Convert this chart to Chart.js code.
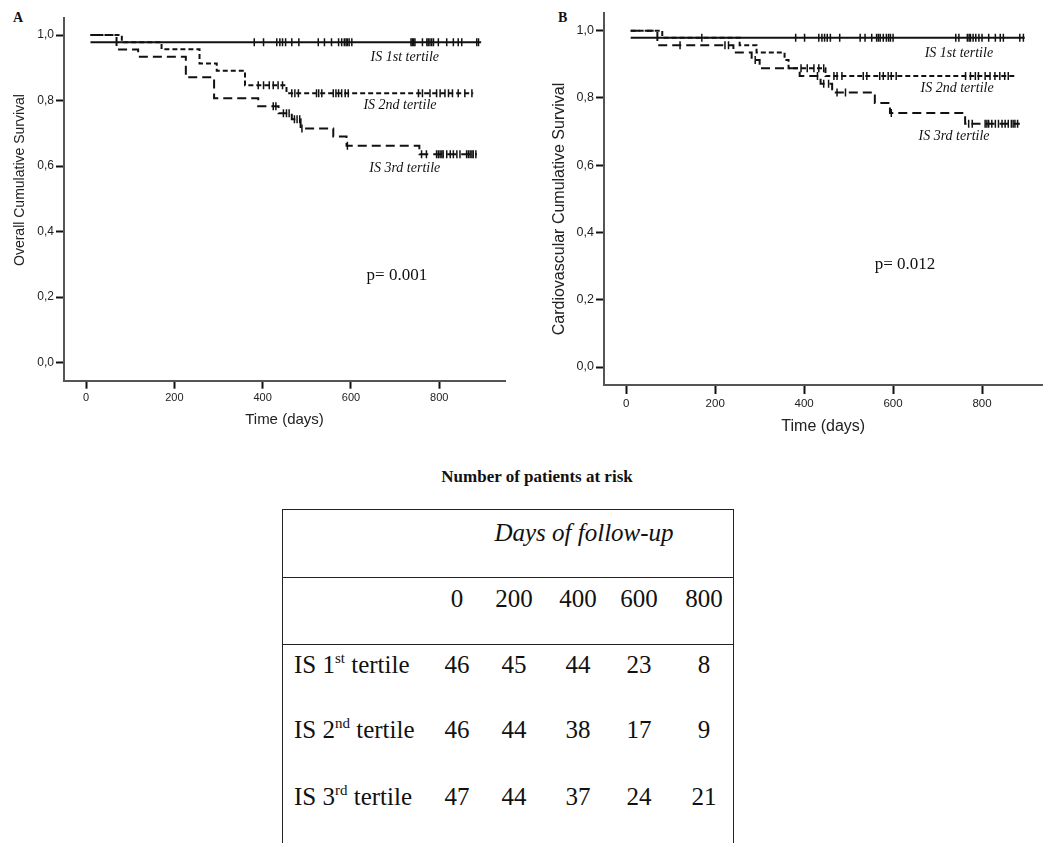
<!DOCTYPE html>
<html lang="en">
<head>
    <meta charset="UTF-8">
    <title>Survival by IS tertile</title>
    <script src="https://cdn.jsdelivr.net/npm/chart.js"></script>
    <style>
        body, html {
            margin: 0;
            padding: 0;
            width: 1048px;
            height: 843px;
            overflow: hidden;
            background: #fff;
        }

        canvas {
            position: absolute;
            top: 0;
        }

        .panelLetter {
            position: absolute;
            font: bold 14px "Liberation Serif", serif;
            color: #111;
        }

        #riskTitle {
            position: absolute;
            left: 537px;
            top: 477px;
            transform: translate(-50%, -50%);
            font: bold 17px "Liberation Serif", serif;
            color: #111;
            white-space: nowrap;
        }

        #riskBox {
            position: absolute;
            left: 282px;
            top: 509px;
            width: 450px;
            height: 400px;
            border: 1.5px solid #222;
            font: 25px "Liberation Serif", serif;
            color: #111;
        }

        #riskBox .rule {
            position: absolute;
            left: 0;
            right: 0;
            height: 0;
            border-top: 1.5px solid #222;
        }

        #riskBox span {
            position: absolute;
            line-height: 1;
            white-space: nowrap;
        }

        #riskBox sup {
            font-size: 15px;
            vertical-align: 10px;
            line-height: 0;
        }
    </style>
</head>
<body>

<div class="panelLetter" style="left:13px; top:10px;">A</div>
<div class="panelLetter" style="left:558px; top:10px;">B</div>

<canvas id="chartA" width="520" height="440" style="left:0;"></canvas>
<canvas id="chartB" width="528" height="440" style="left:520px;"></canvas>

<div id="riskTitle">Number of patients at risk</div>
<div id="riskBox"></div>

<script>
    const xTicks = [0, 200, 400, 600, 800];
    const yTicks = [0, 0.2, 0.4, 0.6, 0.8, 1.0];
    const seriesNames = ['IS 1st tertile', 'IS 2nd tertile', 'IS 3rd tertile'];

    // A - overall survival: step times (days), survival after each step, censored times
    const osTime1 = [10, 895];
    const osSurv1 = [0.978, 0.978];
    const osCens1 = [381, 402, 432, 439, 445, 452, 466, 482, 526, 540, 556, 572, 579, 585, 589, 592,
                     596, 602, 736, 739, 742, 745, 762, 772, 775, 779, 783, 787, 798, 817, 832, 843, 851, 885, 889];

    const osTime2 = [10, 81, 171, 257, 296, 360, 454, 877];
    const osSurv2 = [1.0, 0.978, 0.957, 0.913, 0.891, 0.847, 0.822, 0.822];
    const osCens2 = [390, 402, 415, 424, 435, 445, 466, 473, 481, 522, 527, 534, 560, 566, 572,
                     579, 587, 594, 753, 762, 779, 794, 802, 813, 821, 830, 843, 858, 874];

    const osTime3 = [10, 69, 118, 226, 290, 390, 436, 466, 486, 560, 590, 755, 885];
    const osSurv3 = [1.0, 0.956, 0.934, 0.871, 0.807, 0.783, 0.761, 0.743, 0.715, 0.690, 0.662, 0.636, 0.636];
    const osCens3 = [424, 430, 447, 454, 460, 472, 478, 484, 489, 592, 760, 771, 794, 798, 802, 806,
                     809, 817, 825, 832, 840, 847, 862, 866, 870, 874, 877, 883];

    // B - cardiovascular survival
    const cvTime1 = [10, 896];
    const cvSurv1 = [0.979, 0.979];
    const cvCens1 = [381, 401, 433, 440, 446, 452, 459, 480, 526, 537, 552, 563, 567, 571, 578, 585,
                     590, 594, 600, 741, 748, 767, 771, 774, 780, 786, 793, 800, 815, 830, 841, 848, 885, 893];

    const cvTime2 = [10, 81, 255, 293, 356, 365, 448, 878];
    const cvSurv2 = [1.0, 0.979, 0.957, 0.935, 0.913, 0.888, 0.865, 0.865];
    const cvCens2 = [170, 393, 407, 422, 433, 444, 467, 474, 485, 533, 541, 570, 578, 589, 596, 607,
                     763, 774, 785, 792, 807, 818, 829, 840, 851, 859];

    const cvTime3 = [10, 70, 241, 282, 300, 390, 437, 463, 559, 593, 762, 885];
    const cvSurv3 = [1.0, 0.957, 0.935, 0.913, 0.888, 0.865, 0.842, 0.816, 0.785, 0.755, 0.723, 0.723];
    const cvCens3 = [121, 222, 230, 290, 430, 444, 455, 474, 493, 596, 770, 778, 807, 811, 815, 822,
                     830, 837, 845, 852, 859, 866, 870, 874, 880];

    // patients at risk table
    const riskDays = [0, 200, 400, 600, 800];
    const riskRows = [
        { ord: '1', sup: 'st', values: [46, 45, 44, 23, 8] },
        { ord: '2', sup: 'nd', values: [46, 44, 38, 17, 9] },
        { ord: '3', sup: 'rd', values: [47, 44, 37, 24, 21] }
    ];

    const dashes = [[], [5, 3], [9, 5]];

    function levelAt(times, surv, t) {
        let s = surv[0];
        for (let i = 0; i < times.length; i++) {
            if (times[i] <= t) s = surv[i];
        }
        return s;
    }

    function buildDatasets(curves) {
        const sets = [];
        curves.forEach((c, i) => {
            sets.push({
                type: 'line',
                label: seriesNames[i],
                data: c.time.map((t, k) => ({ x: t, y: c.surv[k] })),
                stepped: 'before',
                borderColor: '#111',
                borderWidth: 2,
                borderDash: dashes[i],
                pointRadius: 0,
                fill: false
            });
        });
        curves.forEach((c, i) => {
            sets.push({
                type: 'scatter',
                label: seriesNames[i] + ' censored',
                data: c.cens.map(t => ({ x: t, y: levelAt(c.time, c.surv, t) })),
                pointStyle: 'line',
                pointRotation: 90,
                pointRadius: 4,
                pointBorderWidth: 1.5,
                pointBorderColor: '#111',
                showLine: false
            });
        });
        return sets;
    }

    function textPlugin(notes, yTitle) {
        return {
            id: 'kmText',
            afterDraw(chart) {
                const ctx = chart.ctx;
                const x = chart.scales.x;
                const y = chart.scales.y;
                ctx.save();
                ctx.fillStyle = '#111';
                ctx.textAlign = 'center';
                ctx.textBaseline = 'middle';
                notes.forEach(n => {
                    ctx.font = n.font;
                    ctx.fillText(n.text, x.getPixelForValue(n.x), y.getPixelForValue(n.y));
                });
                ctx.font = yTitle.font;
                ctx.fillStyle = '#222';
                ctx.translate(yTitle.cx, yTitle.cy);
                ctx.rotate(-Math.PI / 2);
                ctx.fillText(yTitle.text, 0, 0);
                ctx.restore();
            }
        };
    }

    function makeChart(id, curves, cfg) {
        const ctx = document.getElementById(id).getContext('2d');
        return new Chart(ctx, {
            data: { datasets: buildDatasets(curves) },
            options: {
                responsive: false,
                animation: false,
                devicePixelRatio: 1,
                layout: { padding: cfg.padding },
                plugins: {
                    legend: { display: false },
                    tooltip: { enabled: false }
                },
                scales: {
                    x: {
                        type: 'linear',
                        min: cfg.xMin,
                        max: cfg.xMax,
                        afterFit: function(scale) { scale.height = cfg.xAxisHeight; },
                        afterBuildTicks: function(scale) { scale.ticks = xTicks.map(v => ({ value: v })); },
                        border: { display: true, color: '#555', width: 2 },
                        grid: { drawOnChartArea: false, drawTicks: true, tickLength: cfg.tickLen, tickColor: '#111', tickWidth: 2 },
                        ticks: {
                            color: '#222',
                            padding: 3,
                            maxRotation: 0,
                            font: { family: 'Liberation Sans', size: cfg.tickSize },
                            callback: function(value) { return String(value); }
                        },
                        title: {
                            display: true,
                            text: 'Time (days)',
                            color: '#222',
                            font: { family: 'Liberation Sans', size: cfg.xTitleSize },
                            padding: { top: 0, bottom: cfg.xTitlePad }
                        }
                    },
                    y: {
                        type: 'linear',
                        min: cfg.yMin,
                        max: cfg.yMax,
                        afterFit: function(scale) { scale.width = cfg.yAxisWidth; },
                        afterBuildTicks: function(scale) { scale.ticks = yTicks.map(v => ({ value: v })); },
                        border: { display: true, color: '#555', width: 2 },
                        grid: { drawOnChartArea: false, drawTicks: true, tickLength: 8, tickColor: '#111', tickWidth: 2 },
                        ticks: {
                            color: '#222',
                            padding: 2,
                            font: { family: 'Liberation Sans', size: cfg.tickSize + 1 },
                            callback: function(value) { return value.toFixed(1).replace('.', ','); }
                        }
                    }
                }
            },
            plugins: [textPlugin(cfg.notes, cfg.yTitle)]
        });
    }

    const labelFont = 'italic 14px "Liberation Serif"';
    const pFont = '17px "Liberation Serif"';

    makeChart('chartA', [
        { time: osTime1, surv: osSurv1, cens: osCens1 },
        { time: osTime2, surv: osSurv2, cens: osCens2 },
        { time: osTime3, surv: osSurv3, cens: osCens3 }
    ], {
        padding: { top: 18, right: 15, left: 0, bottom: 0 },
        xMin: -50, xMax: 949, yMin: -0.055, yMax: 1.052,
        xAxisHeight: 59.3, yAxisWidth: 64, tickLen: 8,
        tickSize: 11, xTitleSize: 15, xTitlePad: 11,
        yTitle: { text: 'Overall Cumulative Survival', cx: 20, cy: 180, font: '14px "Liberation Sans"' },
        notes: [
            { text: seriesNames[0], x: 722, y: 0.933, font: labelFont },
            { text: seriesNames[1], x: 711, y: 0.786, font: labelFont },
            { text: seriesNames[2], x: 722, y: 0.594, font: labelFont },
            { text: 'p= 0.001', x: 704, y: 0.267, font: pFont }
        ]
    });

    makeChart('chartB', [
        { time: cvTime1, surv: cvSurv1, cens: cvCens1 },
        { time: cvTime2, surv: cvSurv2, cens: cvCens2 },
        { time: cvTime3, surv: cvSurv3, cens: cvCens3 }
    ], {
        padding: { top: 12.7, right: 0, left: 0, bottom: 0 },
        xMin: -50, xMax: 936, yMin: -0.0535, yMax: 1.0535,
        xAxisHeight: 55, yAxisWidth: 84, tickLen: 9,
        tickSize: 11.5, xTitleSize: 16, xTitlePad: 3.4,
        yTitle: { text: 'Cardiovascular Cumulative Survival', cx: 40, cy: 209, font: '16px "Liberation Sans"' },
        notes: [
            { text: seriesNames[0], x: 748, y: 0.933, font: labelFont },
            { text: seriesNames[1], x: 744, y: 0.829, font: labelFont },
            { text: seriesNames[2], x: 737, y: 0.685, font: labelFont },
            { text: 'p= 0.012', x: 627, y: 0.305, font: pFont }
        ]
    });

    // patients at risk table (positions relative to the box)
    function buildRiskTable() {
        const box = document.getElementById('riskBox');
        const colX = [174, 231, 295, 356, 421];
        const rowY = [154, 219, 286];
        let html = '';
        html += '<div class="rule" style="top:67px;"></div>';
        html += '<div class="rule" style="top:134px;"></div>';
        html += '<span style="left:301px; top:22px; transform:translate(-50%,-50%); font-style:italic;">Days of follow-up</span>';
        riskDays.forEach((d, i) => {
            html += '<span style="left:' + colX[i] + 'px; top:88px; transform:translate(-50%,-50%);">' + d + '</span>';
        });
        riskRows.forEach((r, j) => {
            html += '<span style="left:11px; top:' + rowY[j] + 'px; transform:translateY(-50%);">IS ' +
                    r.ord + '<sup>' + r.sup + '</sup> tertile</span>';
            r.values.forEach((v, i) => {
                html += '<span style="left:' + colX[i] + 'px; top:' + rowY[j] + 'px; transform:translate(-50%,-50%);">' + v + '</span>';
            });
        });
        box.innerHTML = html;
    }

    buildRiskTable();
</script>

</body>
</html>
